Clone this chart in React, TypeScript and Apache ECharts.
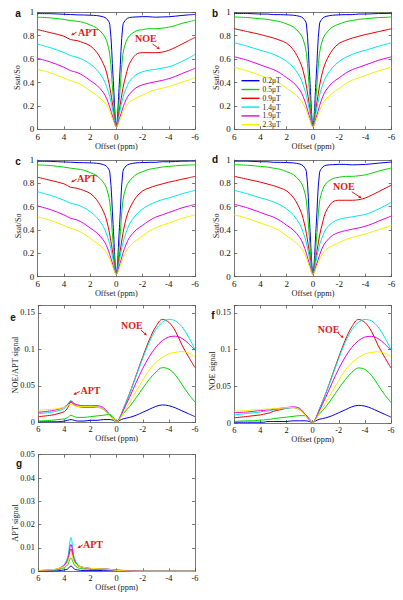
import React, { useEffect, useRef } from 'react';
import * as echarts from 'echarts';

// ---------- data ----------
const FIELD_NAMES = ['0.2μT', '0.5μT', '0.9μT', '1.4μT', '1.9μT', '2.3μT'];

// Z-spectra offsets (ppm)
const Z_OFFSETS_LEFT = [6, 5, 4, 3.5, 3, 2.5, 2, 1.5, 1, 0.75, 0.5, 0.25, 0];
const Z_OFFSETS_RIGHT = [-0.25, -0.5, -0.75, -1, -1.5, -2, -2.5, -3, -3.5, -4, -4.5, -5, -5.5, -6];

// reference (no APT / NOE) Ssat/So, positive side
const Z_LEFT_REF = [
  [0.99, 0.99, 0.985, 0.985, 0.98, 0.98, 0.978, 0.975, 0.965, 0.95, 0.9, 0.45, 0.03],
  [0.96, 0.955, 0.945, 0.94, 0.93, 0.92, 0.9, 0.875, 0.82, 0.77, 0.65, 0.3, 0.02],
  [0.86, 0.835, 0.81, 0.795, 0.78, 0.76, 0.735, 0.68, 0.58, 0.5, 0.37, 0.19, 0.02],
  [0.74, 0.71, 0.675, 0.66, 0.64, 0.615, 0.58, 0.53, 0.45, 0.38, 0.29, 0.15, 0.02],
  [0.62, 0.59, 0.55, 0.53, 0.51, 0.48, 0.44, 0.4, 0.335, 0.28, 0.2, 0.1, 0.02],
  [0.53, 0.5, 0.46, 0.44, 0.42, 0.39, 0.35, 0.31, 0.26, 0.22, 0.16, 0.08, 0.02],
];
// with APT, positive side
const Z_LEFT_APT = [
  [0.989, 0.988, 0.983, 0.981, 0.978, 0.977, 0.975, 0.972, 0.961, 0.946, 0.896, 0.447, 0.03],
  [0.958, 0.952, 0.939, 0.93, 0.923, 0.913, 0.892, 0.866, 0.81, 0.759, 0.639, 0.293, 0.02],
  [0.852, 0.825, 0.796, 0.767, 0.758, 0.739, 0.714, 0.659, 0.562, 0.486, 0.36, 0.186, 0.02],
  [0.728, 0.696, 0.656, 0.63, 0.616, 0.593, 0.558, 0.509, 0.432, 0.366, 0.281, 0.146, 0.02],
  [0.606, 0.574, 0.53, 0.501, 0.486, 0.457, 0.417, 0.377, 0.315, 0.265, 0.19, 0.096, 0.02],
  [0.513, 0.482, 0.439, 0.415, 0.398, 0.368, 0.328, 0.289, 0.242, 0.206, 0.151, 0.076, 0.02],
];
// reference, negative side
const Z_RIGHT_REF = [
  [0.45, 0.9, 0.95, 0.965, 0.975, 0.978, 0.98, 0.98, 0.985, 0.985, 0.987, 0.99, 0.99, 0.99],
  [0.3, 0.65, 0.77, 0.82, 0.875, 0.9, 0.92, 0.93, 0.94, 0.945, 0.95, 0.955, 0.957, 0.96],
  [0.19, 0.37, 0.5, 0.58, 0.68, 0.735, 0.76, 0.78, 0.795, 0.81, 0.822, 0.835, 0.847, 0.86],
  [0.15, 0.29, 0.38, 0.45, 0.53, 0.58, 0.615, 0.64, 0.66, 0.675, 0.692, 0.71, 0.725, 0.74],
  [0.1, 0.2, 0.28, 0.335, 0.4, 0.44, 0.48, 0.51, 0.53, 0.55, 0.57, 0.59, 0.605, 0.62],
  [0.08, 0.16, 0.22, 0.26, 0.31, 0.35, 0.39, 0.42, 0.44, 0.46, 0.48, 0.5, 0.515, 0.53],
];
// with NOE, negative side
const Z_RIGHT_NOE = [
  [0.44, 0.89, 0.94, 0.955, 0.96, 0.963, 0.962, 0.958, 0.96, 0.962, 0.967, 0.973, 0.978, 0.982],
  [0.29, 0.64, 0.75, 0.8, 0.84, 0.852, 0.86, 0.86, 0.865, 0.873, 0.887, 0.905, 0.919, 0.932],
  [0.18, 0.35, 0.47, 0.56, 0.64, 0.655, 0.655, 0.655, 0.66, 0.675, 0.7, 0.728, 0.757, 0.785],
  [0.144, 0.272, 0.35, 0.41, 0.466, 0.492, 0.505, 0.513, 0.523, 0.534, 0.554, 0.58, 0.608, 0.64],
  [0.095, 0.184, 0.255, 0.3, 0.355, 0.38, 0.395, 0.407, 0.418, 0.433, 0.452, 0.476, 0.498, 0.521],
  [0.076, 0.147, 0.2, 0.233, 0.267, 0.292, 0.318, 0.338, 0.351, 0.366, 0.384, 0.403, 0.42, 0.44],
];

// difference signals offsets (ppm)
const D_OFFSETS_LEFT = [6, 5, 4.5, 4, 3.75, 3.5, 3.25, 3, 2.5, 2, 1.5, 1, 0.5, 0.25, 0];
const D_OFFSETS_RIGHT = [-0.25, -0.5, -1, -1.5, -2, -2.5, -3, -3.5, -4, -4.5, -5, -5.5, -6];

// NOE/APT signal, positive side
const NOEAPT_LEFT = [
  [0.001, 0.001, 0.001, 0.002, 0.003, 0.004, 0.003, 0.002, 0.002, 0.003, 0.003, 0.004, 0.004, 0.003, 0.001],
  [0.002, 0.003, 0.004, 0.005, 0.007, 0.01, 0.008, 0.007, 0.007, 0.008, 0.009, 0.01, 0.011, 0.007, 0.001],
  [0.008, 0.01, 0.012, 0.015, 0.02, 0.028, 0.024, 0.022, 0.021, 0.021, 0.021, 0.018, 0.01, 0.004, 0.001],
  [0.012, 0.014, 0.016, 0.019, 0.024, 0.03, 0.026, 0.024, 0.022, 0.022, 0.021, 0.018, 0.009, 0.004, 0.001],
  [0.014, 0.016, 0.018, 0.021, 0.025, 0.029, 0.026, 0.024, 0.023, 0.023, 0.023, 0.02, 0.01, 0.004, 0.001],
  [0.017, 0.018, 0.019, 0.021, 0.023, 0.025, 0.023, 0.022, 0.022, 0.022, 0.021, 0.018, 0.009, 0.004, 0.001],
];
// NOE signal, positive side
const NOE_LEFT = [
  [0.001, 0.001, 0.001, 0.001, 0.001, 0.002, 0.002, 0.002, 0.002, 0.002, 0.003, 0.003, 0.003, 0.002, 0.001],
  [0.002, 0.003, 0.003, 0.004, 0.004, 0.005, 0.005, 0.006, 0.007, 0.008, 0.009, 0.01, 0.01, 0.006, 0.001],
  [0.007, 0.009, 0.01, 0.011, 0.012, 0.013, 0.014, 0.016, 0.018, 0.02, 0.021, 0.018, 0.01, 0.004, 0.001],
  [0.011, 0.013, 0.014, 0.015, 0.016, 0.016, 0.017, 0.018, 0.019, 0.02, 0.021, 0.019, 0.009, 0.004, 0.001],
  [0.014, 0.015, 0.016, 0.017, 0.017, 0.018, 0.018, 0.019, 0.02, 0.021, 0.022, 0.02, 0.01, 0.004, 0.001],
  [0.016, 0.017, 0.018, 0.018, 0.019, 0.019, 0.019, 0.02, 0.02, 0.021, 0.021, 0.018, 0.009, 0.004, 0.001],
];
// NOE (and NOE/APT) signal, negative side
const NOE_RIGHT = [
  [0.003, 0.005, 0.007, 0.01, 0.014, 0.018, 0.022, 0.024, 0.023, 0.02, 0.016, 0.012, 0.008],
  [0.006, 0.012, 0.022, 0.034, 0.047, 0.059, 0.069, 0.075, 0.073, 0.065, 0.052, 0.039, 0.028],
  [0.007, 0.018, 0.04, 0.065, 0.09, 0.113, 0.131, 0.141, 0.137, 0.125, 0.106, 0.09, 0.075],
  [0.007, 0.018, 0.04, 0.064, 0.088, 0.11, 0.127, 0.137, 0.141, 0.139, 0.131, 0.117, 0.1],
  [0.006, 0.016, 0.035, 0.055, 0.074, 0.09, 0.103, 0.112, 0.117, 0.118, 0.115, 0.108, 0.099],
  [0.005, 0.013, 0.027, 0.043, 0.058, 0.072, 0.082, 0.089, 0.094, 0.096, 0.097, 0.095, 0.09],
];

// APT signal
const APT_OFFSETS = [6, 5, 4.5, 4.25, 4, 3.75, 3.5, 3.25, 3, 2.75, 2.5, 2, 1.5, 1, 0.5, 0, -0.5, -1, -1.5, -2, -3, -4, -5, -6];
const APT_SIGNAL = [
  [0, 0.0001, 0.0002, 0.0004, 0.0006, 0.001, 0.0023, 0.001, 0.0006, 0.0004, 0.0003, 0.0003, 0.0003, 0.0004, 0.0005, 0.0004, 0.0002, 0.0001, 0, 0, 0, 0, 0, 0],
  [0.0002, 0.0004, 0.0007, 0.001, 0.0016, 0.0028, 0.0057, 0.0028, 0.0016, 0.0012, 0.001, 0.0009, 0.0009, 0.0009, 0.0008, 0.0006, 0.0004, 0.0002, 0.0001, 0, 0, 0, 0, 0],
  [0.0003, 0.0006, 0.001, 0.0016, 0.0025, 0.0045, 0.0095, 0.0045, 0.0025, 0.0019, 0.0015, 0.0012, 0.001, 0.0009, 0.0007, 0.0004, 0.0002, 0.0001, 0, 0, 0, 0, 0, 0],
  [0.0003, 0.0006, 0.001, 0.0018, 0.003, 0.006, 0.0145, 0.006, 0.003, 0.002, 0.0016, 0.0012, 0.001, 0.001, 0.0008, 0.0005, 0.0003, 0.0002, 0.0001, 0, 0, 0, 0, 0],
  [0.0003, 0.0006, 0.001, 0.0017, 0.0027, 0.005, 0.0115, 0.005, 0.0027, 0.002, 0.0016, 0.0012, 0.001, 0.001, 0.0008, 0.0005, 0.0003, 0.0002, 0.0001, 0, 0, 0, 0, 0],
  [0.0004, 0.0007, 0.0011, 0.0016, 0.0024, 0.004, 0.0078, 0.004, 0.0025, 0.002, 0.0016, 0.0013, 0.0011, 0.001, 0.0008, 0.0004, 0.0002, 0.0001, 0, 0, 0, 0, 0, 0],
];

// ---------- styling / layout ----------
const LINE_COLORS = ['#0000e6', '#00d400', '#e60000', '#00e6e6', '#e600e6', '#f0f000'];
const SERIF = 'Liberation Serif';
const SANS = 'Liberation Sans';
const AXIS_COLOR = '#555';

const PANELS = [
  { letter: 'a', left: 37.7, top: 12.3, width: 157.3, height: 117, yMax: 1, yStep: 0.2, yName: 'Ssat/So', yNamePos: [17.8, 77.5], letterPos: [18, 13], tickFont: 9 },
  { letter: 'b', left: 234.3, top: 12.3, width: 157.3, height: 117, yMax: 1, yStep: 0.2, yName: 'Ssat/So', yNamePos: [216.2, 77.5], letterPos: [215, 13], tickFont: 9 },
  { letter: 'c', left: 37.7, top: 160, width: 157.3, height: 116.7, yMax: 1, yStep: 0.2, yName: 'Ssat/So', yNamePos: [18.5, 225.8], letterPos: [18, 161], tickFont: 9 },
  { letter: 'd', left: 234.3, top: 160, width: 157.3, height: 116.7, yMax: 1, yStep: 0.2, yName: 'Ssat/So', yNamePos: [216, 225.8], letterPos: [215, 159.5], tickFont: 9 },
  { letter: 'e', left: 38.3, top: 305.5, width: 156.7, height: 117, yMax: 0.16, yStep: 0.05, yName: 'NOE/APT signal', yNamePos: [15, 365], letterPos: [13, 317], tickFont: 8.3 },
  { letter: 'f', left: 234.3, top: 305.5, width: 156.7, height: 117.5, yMax: 0.16, yStep: 0.05, yName: 'NOE signal', yNamePos: [212.7, 371], letterPos: [213, 315], tickFont: 8.3 },
  { letter: 'g', left: 38.3, top: 454.7, width: 156.7, height: 116.6, yMax: 0.05, yStep: 0.01, yName: 'APT signal', yNamePos: [15, 523], letterPos: [19, 463], tickFont: 8.3 },
];

const ANNOTATIONS = [
  { panel: 0, label: 'APT', at: [2.93, 0.829], tail: [3.04, 0.83], head: [3.46, 0.803] },
  { panel: 0, label: 'NOE', at: [-1.43, 0.772], tail: [-2.76, 0.729], head: [-3.33, 0.684] },
  { panel: 2, label: 'APT', at: [3.0, 0.843], tail: [3.04, 0.835], head: [3.46, 0.809] },
  { panel: 3, label: 'NOE', at: [-1.53, 0.771], tail: [-2.96, 0.728], head: [-3.72, 0.672] },
  { panel: 4, label: 'NOE', at: [-0.33, 0.1327], tail: [-1.86, 0.1263], head: [-2.32, 0.1191] },
  { panel: 4, label: 'APT', at: [2.77, 0.0433], tail: [2.83, 0.0424], head: [3.33, 0.0379] },
  { panel: 5, label: 'NOE', at: [-0.39, 0.128], tail: [-1.93, 0.1228], head: [-2.37, 0.1155] },
  { panel: 6, label: 'APT', at: [2.58, 0.0117], tail: [2.6, 0.0113], head: [3.01, 0.0099] },
];

function pairs(xs: number[], ys: number[]) {
  return xs.map((x, i) => [x, ys[i]]);
}

const Z_X = [...Z_OFFSETS_LEFT, ...Z_OFFSETS_RIGHT];
const D_X = [...D_OFFSETS_LEFT, ...D_OFFSETS_RIGHT];

const PANEL_DATA: number[][][][] = [
  FIELD_NAMES.map((_, k) => pairs(Z_X, [...Z_LEFT_APT[k], ...Z_RIGHT_NOE[k]])),
  FIELD_NAMES.map((_, k) => pairs(Z_X, [...Z_LEFT_REF[k], ...Z_RIGHT_REF[k]])),
  FIELD_NAMES.map((_, k) => pairs(Z_X, [...Z_LEFT_APT[k], ...Z_RIGHT_REF[k]])),
  FIELD_NAMES.map((_, k) => pairs(Z_X, [...Z_LEFT_REF[k], ...Z_RIGHT_NOE[k]])),
  FIELD_NAMES.map((_, k) => pairs(D_X, [...NOEAPT_LEFT[k], ...NOE_RIGHT[k]])),
  FIELD_NAMES.map((_, k) => pairs(D_X, [...NOE_LEFT[k], ...NOE_RIGHT[k]])),
  FIELD_NAMES.map((_, k) => pairs(APT_OFFSETS, APT_SIGNAL[k])),
];

function fmt(v: number, step: number, max: number) {
  const r = Math.round(v / step);
  if (Math.abs(v - r * step) > 1e-9) return '';
  if (v > max - 1e-9 && Math.abs(max / step - Math.round(max / step)) > 1e-6) return '';
  return String(Number(v.toFixed(4)));
}

function buildOption() {
  const xAxis: any[] = [];
  const yAxis: any[] = [];
  const lineStyle = { color: AXIS_COLOR, width: 0.8 };
  ['bottom', 'top'].forEach((pos) => {
    PANELS.forEach((p, i) => {
      xAxis.push({
        type: 'value', gridIndex: i, position: pos, min: -6, max: 6, interval: 2, inverse: true,
        axisLine: { show: true, onZero: false, lineStyle },
        axisTick: { show: true, inside: true, length: 3, lineStyle },
        axisLabel: { show: pos === 'bottom', margin: 3, color: '#111', fontSize: p.tickFont, fontFamily: SERIF },
        splitLine: { show: false },
        name: pos === 'bottom' ? 'Offset (ppm)' : '',
        nameLocation: 'middle', nameGap: 12,
        nameTextStyle: { color: '#222', fontSize: 8.3, fontFamily: SERIF },
      });
    });
  });
  ['left', 'right'].forEach((pos) => {
    PANELS.forEach((p, i) => {
      yAxis.push({
        type: 'value', gridIndex: i, position: pos, min: 0, max: p.yMax, interval: p.yStep,
        axisLine: { show: true, onZero: false, lineStyle },
        axisTick: { show: true, inside: true, length: 3, lineStyle },
        axisLabel: {
          show: pos === 'left', margin: 3.5, color: '#111', fontSize: p.tickFont, fontFamily: SERIF,
          formatter: (v: number) => fmt(v, p.yStep, p.yMax),
        },
        splitLine: { show: false },
      });
    });
  });

  const series: any[] = [];
  PANEL_DATA.forEach((panelSeries, i) => {
    panelSeries.forEach((data, k) => {
      series.push({
        type: 'line', name: FIELD_NAMES[k], xAxisIndex: i, yAxisIndex: i,
        data, symbol: 'none', showSymbol: false, smooth: 0.35,
        lineStyle: { color: LINE_COLORS[k], width: 1 },
        itemStyle: { color: LINE_COLORS[k] },
        silent: true,
      });
    });
  });

  return {
    animation: false,
    backgroundColor: '#ffffff',
    textStyle: { fontFamily: SERIF },
    grid: PANELS.map((p) => ({ left: p.left, top: p.top, width: p.width, height: p.height })),
    xAxis,
    yAxis,
    legend: {
      data: FIELD_NAMES.map((name, k) => ({ name, icon: 'rect', itemStyle: { color: LINE_COLORS[k] } })),
      orient: 'vertical', left: 241.5, top: 76.7, padding: 0,
      itemWidth: 18, itemHeight: 1.4, itemGap: 0.8, selectedMode: false,
      textStyle: { fontSize: 7.5, lineHeight: 8, fontFamily: SERIF, color: '#222', padding: [0, 0, 0, -2] },
    },
    series,
  };
}

function buildGraphic(chart: any) {
  const els: any[] = [];
  PANELS.forEach((p, i) => {
    els.push({
      type: 'text', id: 'letter' + i, x: p.letterPos[0], y: p.letterPos[1],
      style: { text: p.letter, fontFamily: SANS, fontWeight: 'bold', fontSize: 10, fill: '#111', align: 'center', verticalAlign: 'middle' },
    });
    els.push({
      type: 'text', id: 'yname' + i, x: p.yNamePos[0], y: p.yNamePos[1], rotation: Math.PI / 2,
      style: { text: p.yName, fontFamily: SERIF, fontSize: 8.3, fill: '#222', align: 'center', verticalAlign: 'middle' },
    });
  });
  ANNOTATIONS.forEach((a, j) => {
    const finder = { xAxisIndex: a.panel, yAxisIndex: a.panel };
    const t = chart.convertToPixel(finder, a.at);
    const s = chart.convertToPixel(finder, a.tail);
    const h = chart.convertToPixel(finder, a.head);
    const dx = h[0] - s[0];
    const dy = h[1] - s[1];
    const len = Math.sqrt(dx * dx + dy * dy) || 1;
    const ux = dx / len;
    const uy = dy / len;
    const L = 3.2;
    const W = 1.5;
    const bx = h[0] - ux * L;
    const by = h[1] - uy * L;
    els.push({
      type: 'text', id: 'ann' + j, x: t[0], y: t[1],
      style: { text: a.label, fontFamily: SERIF, fontWeight: 'bold', fontSize: 10, fill: '#e01a1a', align: 'left', verticalAlign: 'middle' },
    });
    els.push({
      type: 'line', id: 'annl' + j,
      shape: { x1: s[0], y1: s[1], x2: bx, y2: by },
      style: { stroke: '#e01a1a', lineWidth: 1 },
    });
    els.push({
      type: 'polygon', id: 'annh' + j,
      shape: { points: [[h[0], h[1]], [bx - uy * W, by + ux * W], [bx + uy * W, by - ux * W]] },
      style: { fill: '#e01a1a' },
    });
  });
  return els;
}

export default function App() {
  const ref = useRef<HTMLDivElement>(null);
  useEffect(() => {
    if (!ref.current) return;
    const chart = echarts.init(ref.current, undefined, { renderer: 'svg' });
    chart.setOption(buildOption() as any);
    chart.setOption({ graphic: buildGraphic(chart) } as any);
    return () => chart.dispose();
  }, []);
  return <div ref={ref} style={{ position: 'absolute', left: 0, top: 0, width: 403, height: 600 }} />;
}
